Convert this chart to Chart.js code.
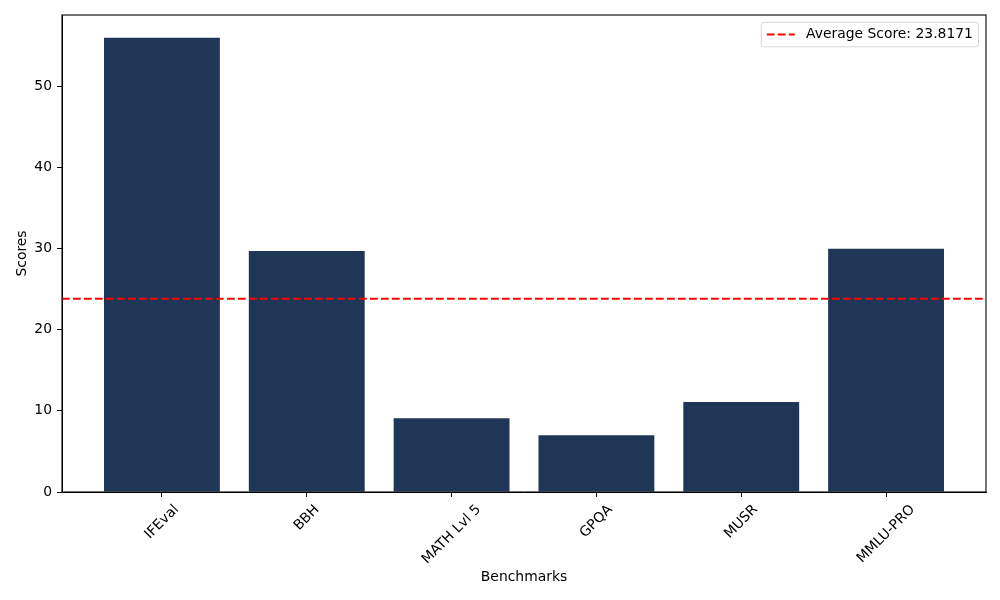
<!DOCTYPE html>
<html>
<head>
<meta charset="utf-8">
<script src="https://cdn.jsdelivr.net/npm/chart.js@4"></script>
<style>
  body { margin: 0; background: #fff; }
  #wrap { width: 1000px; height: 600px; }
</style>
</head>
<body>
<div id="wrap"><canvas id="scoreChart" width="1000" height="600"></canvas></div>
<script>
/* Data */
let benchmarks = ["IFEval", "BBH", "MATH Lvl 5", "GPQA", "MUSR", "MMLU-PRO"];
let scores = [56.0, 29.7, 9.1, 7.0, 11.1, 30.0];
let averageScore = 23.8171;
let yTicks = [0, 10, 20, 30, 40, 50];

/* Axis limits, matplotlib style margins */
let barWidth = 0.8;
let xMin = -barWidth / 2 - 0.05 * (benchmarks.length - 1 + barWidth);
let xMax = benchmarks.length - 1 + barWidth / 2 + 0.05 * (benchmarks.length - 1 + barWidth);
let yMax = Math.max(...scores) * 1.05;

const FONT = '"DejaVu Sans", sans-serif';
const FS = 13.9;
const DASH = [7.7, 3.3];

/* Frame, rotated tick labels, legend */
const extras = {
    id: "extras",
    afterDraw(chart) {
        const ctx = chart.ctx;
        const a = chart.chartArea;
        const xs = chart.scales.x;

        ctx.save();
        ctx.strokeStyle = "#000";
        ctx.lineWidth = 1.1;
        ctx.strokeRect(a.left, a.top, a.right - a.left, a.bottom - a.top);

        // x tick labels, rotated 45 and centred under the tick
        ctx.font = FS + "px " + FONT;
        ctx.fillStyle = "#000";
        ctx.textAlign = "center";
        ctx.textBaseline = "middle";
        benchmarks.forEach((lab, i) => {
            const w = ctx.measureText(lab).width;
            const h = 16;
            const cx = xs.getPixelForValue(i);
            const cy = a.bottom + 9.8 + (w + h) * 0.3536;
            ctx.save();
            ctx.translate(cx, cy);
            ctx.rotate(-Math.PI / 4);
            ctx.fillText(lab, 0, 0);
            ctx.restore();
        });

        // legend
        const text = "Average Score: " + averageScore;
        const tw = ctx.measureText(text).width;
        const boxW = 5.6 + 28 + 11.2 + tw + 5.6;
        const boxH = 24.5;
        const bx = a.right - 7.5 - boxW;
        const by = a.top + 7.3;
        ctx.beginPath();
        ctx.roundRect(bx, by, boxW, boxH, 3);
        ctx.fillStyle = "rgba(255,255,255,0.8)";
        ctx.fill();
        ctx.strokeStyle = "#d6d6d6";
        ctx.lineWidth = 1;
        ctx.stroke();
        ctx.beginPath();
        ctx.setLineDash(DASH);
        ctx.strokeStyle = "#ff0000";
        ctx.lineWidth = 2;
        ctx.moveTo(bx + 5.6, by + boxH / 2);
        ctx.lineTo(bx + 5.6 + 28, by + boxH / 2);
        ctx.stroke();
        ctx.setLineDash([]);
        ctx.fillStyle = "#000";
        ctx.textAlign = "left";
        ctx.fillText(text, bx + 5.6 + 28 + 11.2, by + boxH / 2);
        ctx.restore();
    }
};

new Chart("scoreChart", {
    type: "bar",
    data: {
        datasets: [{
            type: "line",
            label: "Average Score: " + averageScore,
            data: [{ x: xMin, y: averageScore }, { x: xMax, y: averageScore }],
            borderColor: "#ff0000",
            borderWidth: 2,
            borderDash: DASH,
            pointRadius: 0,
            order: 0
        }, {
            label: "Scores",
            data: scores.map((v, i) => ({ x: i, y: v })),
            backgroundColor: "#1f3656",
            borderWidth: 0,
            barPercentage: barWidth,
            categoryPercentage: 1,
            order: 1
        }]
    },
    options: {
        responsive: false,
        devicePixelRatio: 1,
        animation: false,
        layout: { padding: { left: 0, top: 15, right: 14, bottom: 0 } },
        plugins: {
            legend: { display: false },
            tooltip: { enabled: false }
        },
        scales: {
            x: {
                type: "linear",
                offset: false,
                min: xMin,
                max: xMax,
                afterBuildTicks: s => { s.ticks = benchmarks.map((_, i) => ({ value: i })); },
                afterFit: s => { s.height = 108; },
                ticks: { display: false },
                grid: { offset: false, drawOnChartArea: false, drawTicks: true, tickLength: 5, color: "#000", tickColor: "#000" },
                border: { display: true, color: "#000", width: 1 },
                title: {
                    display: true,
                    text: "Benchmarks",
                    color: "#000",
                    font: { family: FONT, size: FS, lineHeight: 1.2 },
                    padding: { top: 0, bottom: 14.6 }
                }
            },
            y: {
                min: 0,
                max: yMax,
                afterBuildTicks: s => { s.ticks = yTicks.map(v => ({ value: v })); },
                afterFit: s => { s.width = 62; },
                ticks: {
                    color: "#000",
                    padding: 5,
                    font: { family: FONT, size: FS }
                },
                grid: { drawOnChartArea: false, drawTicks: true, tickLength: 5, color: "#000", tickColor: "#000" },
                border: { display: true, color: "#000", width: 1 },
                title: {
                    display: true,
                    text: "Scores",
                    color: "#000",
                    font: { family: FONT, size: FS, lineHeight: 1.2 },
                    padding: { top: 13.6, bottom: 0 }
                }
            }
        }
    },
    plugins: [extras]
});
</script>
</body>
</html>
